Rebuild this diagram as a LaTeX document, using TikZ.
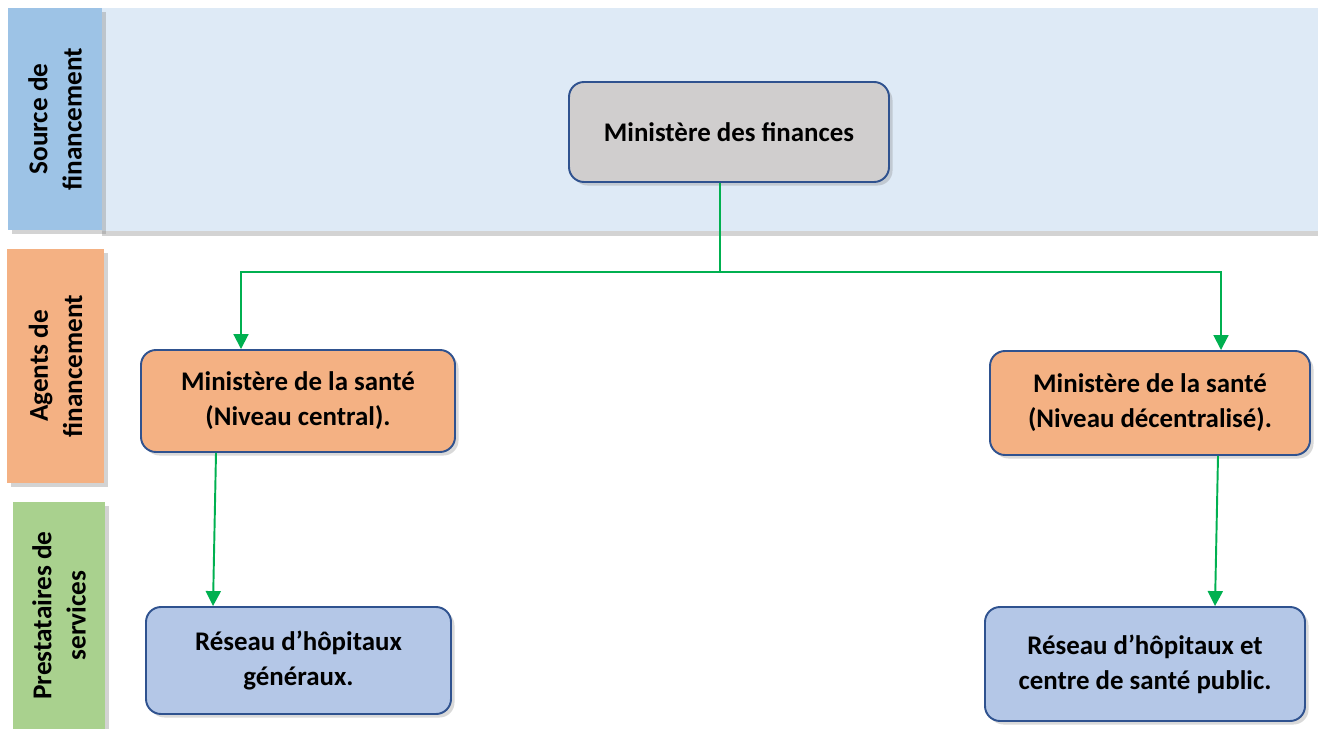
\documentclass[tikz,border=0pt]{standalone}
\usepackage{fontspec}
\setmainfont{Carlito}
\usetikzlibrary{arrows.meta,shadows,calc}

\definecolor{bandblue}{HTML}{DEEAF6}
\definecolor{srcblue}{HTML}{9DC3E6}
\definecolor{agorange}{HTML}{F4B183}
\definecolor{provgreen}{HTML}{A9D18E}
\definecolor{fingray}{HTML}{D0CECE}
\definecolor{provblue}{HTML}{B4C7E7}
\definecolor{edgeblue}{HTML}{2F528F}
\definecolor{flowgreen}{HTML}{00B050}

\tikzset{
  band/.style={inner sep=0pt,align=center,font=\fontsize{15.5}{19.5}\selectfont\bfseries,
    rotate=90,drop shadow={opacity=0.35,shadow xshift=2pt,shadow yshift=-2pt}},
  box/.style={draw=edgeblue,line width=1.1pt,rounded corners=0.3cm,align=center,
    inner sep=0pt,font=\fontsize{15.3}{20}\selectfont\bfseries,
    drop shadow={opacity=0.3,shadow xshift=2pt,shadow yshift=-2pt}},
  flow/.style={draw=flowgreen,line width=1.1pt,-{Triangle[length=8.5pt,width=8.5pt]}}
}

\begin{document}
\begin{tikzpicture}[x=0.02cm,y=-0.02cm]
\useasboundingbox (0,0) rectangle (1318,729);

% bande de la source
\fill[bandblue,drop shadow={opacity=0.35,shadow xshift=0pt,shadow yshift=-3pt}] (102,8) rectangle (1318,231);

\node[band,fill=srcblue,minimum width=222*0.02cm,minimum height=94*0.02cm] (src) at (55,119) {Source de\\financement};
\node[band,fill=agorange,minimum width=234*0.02cm,minimum height=97*0.02cm] (agents) at (55.5,366) {Agents de\\financement};
\node[band,fill=provgreen,minimum width=227*0.02cm,minimum height=92*0.02cm] (prest) at (59,615.5) {Prestataires de\\services};

\node[box,fill=fingray,minimum width=320*0.02cm,minimum height=100*0.02cm] (fin) at (729,132) {Ministère des finances};
\node[box,fill=agorange,minimum width=314*0.02cm,minimum height=102*0.02cm] (agc) at (298,401) {Ministère de la santé\\(Niveau central).};
\node[box,fill=agorange,minimum width=320*0.02cm,minimum height=104*0.02cm] (agd) at (1150,403) {Ministère de la santé\\(Niveau décentralisé).};
\node[box,fill=provblue,minimum width=305*0.02cm,minimum height=107*0.02cm] (provg) at (298.5,660.5) {Réseau d’hôpitaux\\généraux.};
\node[box,fill=provblue,minimum width=320*0.02cm,minimum height=114*0.02cm] (provp) at (1145,664) {Réseau d’hôpitaux et\\centre de santé public.};

\coordinate (split) at (720,272);
\coordinate (jl) at (241,272);
\coordinate (jr) at (1221,272);

\draw[draw=flowgreen,line width=1.1pt] (split |- fin.south) -- (split);
\draw[flow] (split) -- (jl) -- (jl |- agc.north);
\draw[flow] (split) -- (jr) -- (jr |- agd.north);
\draw[flow] ($(agc.south)+(-82,0)$) -- ($(provg.north)+(-85.5,0)$);
\draw[flow] ($(agd.south)+(68,0)$) -- ($(provp.north)+(70,0)$);
\end{tikzpicture}
\end{document}
